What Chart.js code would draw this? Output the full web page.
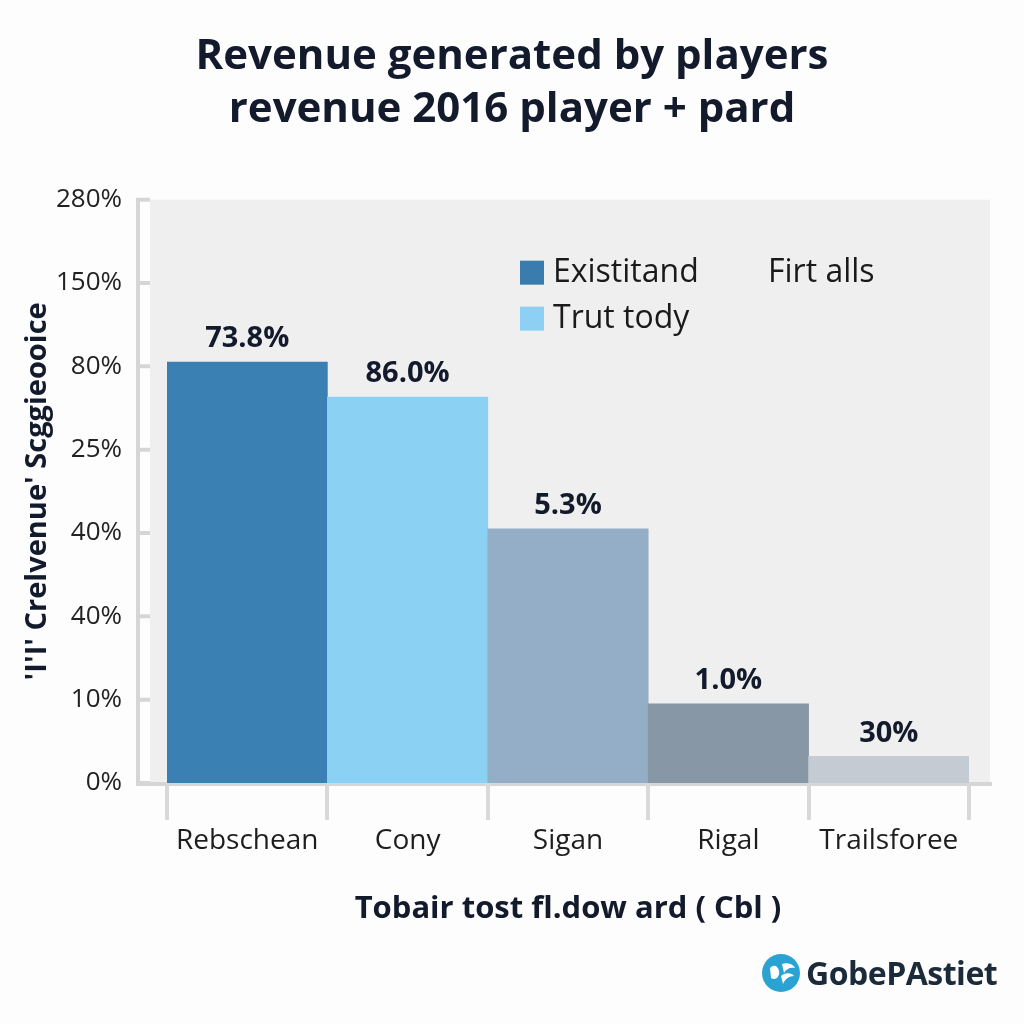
<!DOCTYPE html>
<html>
<head>
<meta charset="utf-8">
<title>Revenue generated by players</title>
<script src="https://cdn.jsdelivr.net/npm/chart.js@4.4.1/dist/chart.umd.min.js"></script>
<style>
    html, body { margin: 0; padding: 0; background: #fdfdfd; }
    #wrap { position: relative; width: 1024px; height: 1024px; }
    #logo {
        position: absolute; left: 762px; top: 951px;
        display: flex; align-items: center; gap: 6px;
        font-family: "Open Sans", sans-serif; font-weight: 700;
        font-size: 32px; color: #1b2b3a; letter-spacing: -0.5px;
    }
</style>
</head>
<body>
<div id="wrap">
    <canvas id="revChart" width="1024" height="1024"></canvas>
    <div id="logo">
        <svg width="38" height="38" viewBox="0 0 38 38">
            <circle cx="19" cy="19" r="19" fill="#2aa3d2"/>
            <path d="M8 14 C12 10 16 12 17 17 C18 23 13 27 9 24 Z" fill="#fff"/>
            <path d="M20 10 C26 8 32 11 33 14 C28 13 24 15 22 19 Z" fill="#fff"/>
            <path d="M19 22 C24 18 30 19 32 22 C27 22 23 25 21 30 Z" fill="#fff"/>
        </svg>
        <span>GobePAstiet</span>
    </div>
</div>
<script>
(function () {
    'use strict';

    // bar heights are in y-axis step units (the tick labels are not linear)
    var categories = ['Rebschean', 'Cony', 'Sigan', 'Rigal', 'Trailsforee'];
    var barValues = [5.05, 4.63, 3.05, 0.95, 0.32];
    var barLabels = ['73.8%', '86.0%', '5.3%', '1.0%', '30%'];
    var barColors = ['#3a80b2', '#8bd1f3', '#94aec7', '#8897a6', '#c4cbd2'];
    var yTickLabels = ['0%', '10%', '40%', '40%', '25%', '80%', '150%', '280%'];
    var legendNames = ['Existitand', 'Firt alls', 'Trut tody'];
    var legendColors = ['#3a7cae', null, '#8dd0f3'];

    var FONT = '"Open Sans", "DejaVu Sans", sans-serif';
    var INK = '#121a2c';

    var plotFrame = {
        id: 'plotFrame',
        beforeDraw: function (chart) {
            var ctx = chart.ctx;
            var a = chart.chartArea;
            var y = chart.scales.y;
            ctx.save();
            // grey plot background
            ctx.fillStyle = '#efefef';
            ctx.fillRect(a.left - 17, a.top, (a.right + 21) - (a.left - 17), a.bottom - a.top);
            ctx.strokeStyle = '#d6d6d6';
            ctx.lineWidth = 4;
            // left rail + small tick marks
            ctx.beginPath();
            ctx.moveTo(a.left - 29, a.top);
            ctx.lineTo(a.left - 29, a.bottom);
            y.ticks.forEach(function (t, i) {
                var py = y.getPixelForTick(i);
                ctx.moveTo(a.left - 31, py);
                ctx.lineTo(a.left - 17, py);
            });
            ctx.stroke();
            // bottom rail
            ctx.beginPath();
            ctx.moveTo(a.left - 31, a.bottom + 1);
            ctx.lineTo(a.right + 23, a.bottom + 1);
            ctx.stroke();
            ctx.restore();
        },
        afterDatasetsDraw: function (chart) {
            var ctx = chart.ctx;
            var meta = chart.getDatasetMeta(0);
            ctx.save();
            ctx.font = '700 29px ' + FONT;
            ctx.fillStyle = INK;
            ctx.textAlign = 'center';
            ctx.textBaseline = 'middle';
            meta.data.forEach(function (bar, i) {
                ctx.fillText(barLabels[i], bar.x, bar.y - 23);
            });
            ctx.restore();
        },
        afterDraw: function (chart) {
            var ctx = chart.ctx;
            var a = chart.chartArea;
            var lx = a.left + 353;
            var ly = a.top + 73;
            ctx.save();
            ctx.font = '32px ' + FONT;
            ctx.textBaseline = 'middle';
            // row 1
            ctx.fillStyle = legendColors[0];
            ctx.fillRect(lx, ly - 12, 24, 24);
            ctx.fillStyle = '#1a1a1a';
            ctx.fillText(legendNames[0], lx + 33, ly);
            ctx.fillText(legendNames[1], lx + 248, ly);
            // row 2
            ctx.fillStyle = legendColors[2];
            ctx.fillRect(lx, ly + 34, 24, 24);
            ctx.fillStyle = '#1a1a1a';
            ctx.fillText(legendNames[2], lx + 33, ly + 46);
            ctx.restore();
        }
    };

    new Chart(document.getElementById('revChart'), {
        type: 'bar',
        data: {
            labels: categories,
            datasets: [{
                data: barValues,
                backgroundColor: barColors,
                borderWidth: 0,
                barPercentage: 1,
                categoryPercentage: 1
            }]
        },
        options: {
            responsive: false,
            animation: false,
            // symmetric padding so the title centres on the page; a blank right axis makes room
            layout: { padding: { top: 0, left: 18, right: 18, bottom: 91 } },
            plugins: {
                legend: { display: false },
                tooltip: { enabled: false },
                title: {
                    display: true,
                    text: ['Revenue generated by players', 'revenue 2016 player + pard'],
                    color: INK,
                    font: { family: FONT, size: 42, weight: '700', lineHeight: 1.27 },
                    padding: { top: 30, bottom: 63 }
                }
            },
            scales: {
                x: {
                    offset: true,
                    grid: {
                        offset: true,
                        drawOnChartArea: false,
                        drawTicks: true,
                        tickLength: 37,
                        color: '#d9d9d9',
                        lineWidth: 4
                    },
                    border: { display: false },
                    ticks: { color: '#1e1e1e', padding: 4, font: { family: FONT, size: 28 } },
                    title: {
                        display: true,
                        text: 'Tobair tost ﬂ.dow ard ( Cbl )',
                        color: INK,
                        font: { family: FONT, size: 31, weight: '700' },
                        padding: { top: 4, bottom: 5 }
                    },
                    afterFit: function (scale) { scale.height = 150; }
                },
                y: {
                    min: 0,
                    max: 7,
                    grid: { display: false, drawTicks: false },
                    border: { display: false },
                    ticks: {
                        stepSize: 1,
                        padding: 45,
                        color: '#222',
                        font: { family: FONT, size: 26 },
                        callback: function (v) { return yTickLabels[v]; }
                    },
                    title: {
                        display: true,
                        text: "'I'I' Crelvenue' Scggieooice",
                        color: INK,
                        font: { family: FONT, size: 29, weight: '700' },
                        padding: { top: 2, bottom: 2 }
                    },
                    afterFit: function (scale) { scale.width = 149; }
                },
                yRight: {
                    position: 'right',
                    min: 0,
                    max: 7,
                    grid: { display: false, drawTicks: false },
                    border: { display: false },
                    ticks: { display: false },
                    afterFit: function (scale) { scale.width = 37; }
                }
            }
        },
        plugins: [plotFrame]
    });
})();
</script>
</body>
</html>
